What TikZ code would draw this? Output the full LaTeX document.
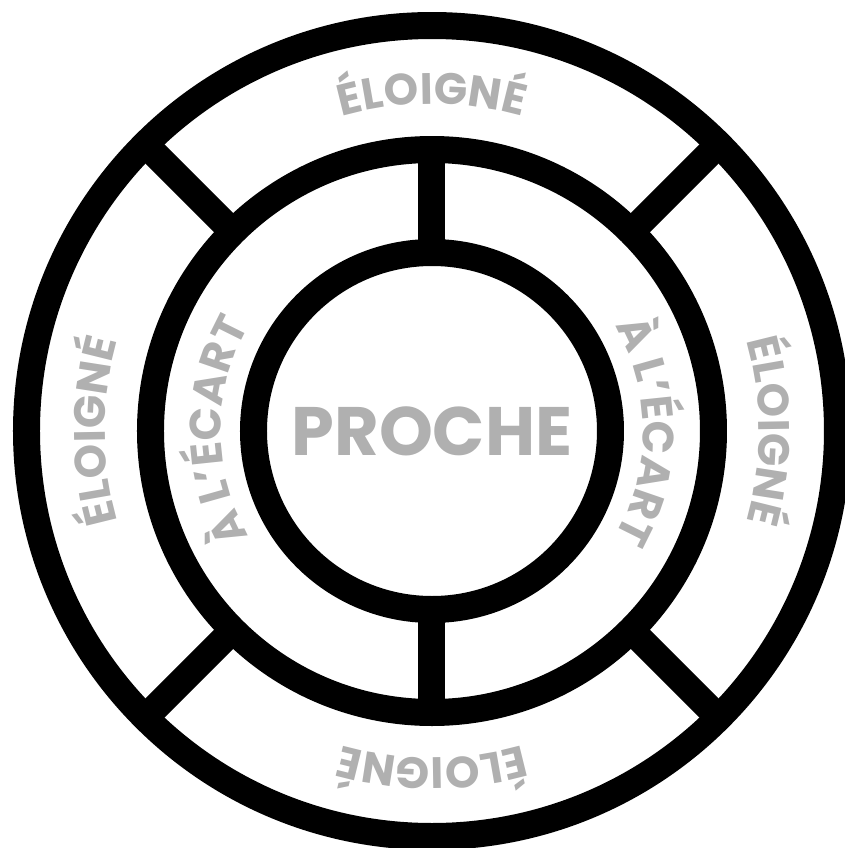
\documentclass[tikz,border=0pt]{standalone}
\usepackage{fontspec}
\setmainfont{Poppins}
\usetikzlibrary{decorations.text}

\definecolor{zonegray}{gray}{0.69}
\newcommand{\zonefont}{\fontsize{25}{26}\selectfont\bfseries}

\begin{document}
\begin{tikzpicture}[
    ring/.style={draw=black, line width=0.54cm},
    spoke/.style={draw=black, line width=0.54cm},
    zonetext/.style={decorate, decoration={text along path, text align=center, text color=zonegray}},
    core/.style={text=zonegray, font=\fontsize{39}{40}\selectfont\bfseries}
]
    \clip (-8.64,-8.34) rectangle (8.26,8.62);

    % rings
    \draw[ring] (0,0) circle[radius=3.57];
    \draw[ring] (0,0) circle[radius=5.63];
    \draw[ring] (0,0) circle[radius=8.11];

    % spokes
    \foreach \a in {90,270}
        \draw[spoke] (\a:3.57) -- (\a:5.63);
    \foreach \a in {45,135,225,315}
        \draw[spoke] (\a:5.63) -- (\a:8.11);

    % labels
    \node[core] (proche) at (0,0) {PROCHE};
    \foreach \a in {90,0,-90,180}
        \path[zonetext, decoration={text={|\zonefont|ÉLOIGNÉ}}]
            (\a+40:6.54) arc[start angle=\a+40, end angle=\a-40, radius=6.54];
    \foreach \a in {0,180}
        \path[zonetext, decoration={text={|\zonefont|À L’ÉCART}}]
            (\a+50:4.22) arc[start angle=\a+50, end angle=\a-50, radius=4.22];
\end{tikzpicture}
\end{document}
